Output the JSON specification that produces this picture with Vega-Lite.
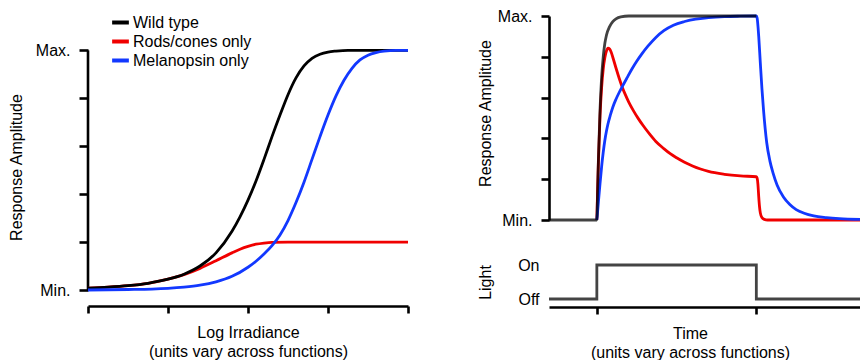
{
  "$schema": "https://vega.github.io/schema/vega-lite/v6.json",
  "padding": {"left": 8, "top": 8, "right": 0, "bottom": 0},
  "autosize": {"type": "pad"},
  "config": {
    "view": {"stroke": null},
    "font": "Liberation Sans",
    "axis": {
      "grid": false,
      "domainColor": "#000000",
      "domainWidth": 2.6,
      "tickColor": "#000000",
      "tickWidth": 2.6,
      "labelFont": "Liberation Sans",
      "labelFontSize": 16,
      "labelColor": "#000000",
      "labelFlush": false,
      "labelOverlap": false,
      "labelBound": false,
      "titleFont": "Liberation Sans",
      "titleFontSize": 16,
      "titleFontWeight": "normal",
      "titleColor": "#000000",
      "titleLineHeight": 19
    },
    "legend": {
      "labelFont": "Liberation Sans",
      "labelFontSize": 16,
      "labelColor": "#000000"
    }
  },
  "datasets": {
    "irr": [
      {"x": 0, "y": 0.008, "s": "Wild type"},
      {"x": 0.25, "y": 0.012, "s": "Wild type"},
      {"x": 0.5, "y": 0.018, "s": "Wild type"},
      {"x": 0.75, "y": 0.028, "s": "Wild type"},
      {"x": 1.0, "y": 0.045, "s": "Wild type"},
      {"x": 1.2, "y": 0.066, "s": "Wild type"},
      {"x": 1.4, "y": 0.1, "s": "Wild type"},
      {"x": 1.6, "y": 0.155, "s": "Wild type"},
      {"x": 1.8, "y": 0.245, "s": "Wild type"},
      {"x": 1.9, "y": 0.305, "s": "Wild type"},
      {"x": 2.0, "y": 0.375, "s": "Wild type"},
      {"x": 2.1, "y": 0.455, "s": "Wild type"},
      {"x": 2.2, "y": 0.545, "s": "Wild type"},
      {"x": 2.3, "y": 0.64, "s": "Wild type"},
      {"x": 2.4, "y": 0.73, "s": "Wild type"},
      {"x": 2.5, "y": 0.815, "s": "Wild type"},
      {"x": 2.6, "y": 0.885, "s": "Wild type"},
      {"x": 2.7, "y": 0.935, "s": "Wild type"},
      {"x": 2.8, "y": 0.967, "s": "Wild type"},
      {"x": 2.9, "y": 0.984, "s": "Wild type"},
      {"x": 3.0, "y": 0.993, "s": "Wild type"},
      {"x": 3.1, "y": 0.997, "s": "Wild type"},
      {"x": 3.25, "y": 1.0, "s": "Wild type"},
      {"x": 3.5, "y": 1.0, "s": "Wild type"},
      {"x": 4.0, "y": 1.0, "s": "Wild type"},
      {"x": 0, "y": 0.008, "s": "Rods/cones only"},
      {"x": 0.25, "y": 0.012, "s": "Rods/cones only"},
      {"x": 0.5, "y": 0.018, "s": "Rods/cones only"},
      {"x": 0.75, "y": 0.028, "s": "Rods/cones only"},
      {"x": 1.0, "y": 0.045, "s": "Rods/cones only"},
      {"x": 1.2, "y": 0.064, "s": "Rods/cones only"},
      {"x": 1.4, "y": 0.09, "s": "Rods/cones only"},
      {"x": 1.6, "y": 0.122, "s": "Rods/cones only"},
      {"x": 1.8, "y": 0.155, "s": "Rods/cones only"},
      {"x": 1.9, "y": 0.17, "s": "Rods/cones only"},
      {"x": 2.0, "y": 0.182, "s": "Rods/cones only"},
      {"x": 2.1, "y": 0.191, "s": "Rods/cones only"},
      {"x": 2.2, "y": 0.196, "s": "Rods/cones only"},
      {"x": 2.3, "y": 0.199, "s": "Rods/cones only"},
      {"x": 2.5, "y": 0.2, "s": "Rods/cones only"},
      {"x": 4.0, "y": 0.2, "s": "Rods/cones only"},
      {"x": 0, "y": 0.0, "s": "Melanopsin only"},
      {"x": 0.5, "y": 0.002, "s": "Melanopsin only"},
      {"x": 0.8, "y": 0.004, "s": "Melanopsin only"},
      {"x": 1.0, "y": 0.007, "s": "Melanopsin only"},
      {"x": 1.2, "y": 0.012, "s": "Melanopsin only"},
      {"x": 1.4, "y": 0.02, "s": "Melanopsin only"},
      {"x": 1.6, "y": 0.034, "s": "Melanopsin only"},
      {"x": 1.8, "y": 0.057, "s": "Melanopsin only"},
      {"x": 2.0, "y": 0.095, "s": "Melanopsin only"},
      {"x": 2.1, "y": 0.12, "s": "Melanopsin only"},
      {"x": 2.2, "y": 0.15, "s": "Melanopsin only"},
      {"x": 2.3, "y": 0.185, "s": "Melanopsin only"},
      {"x": 2.4, "y": 0.23, "s": "Melanopsin only"},
      {"x": 2.5, "y": 0.29, "s": "Melanopsin only"},
      {"x": 2.6, "y": 0.365, "s": "Melanopsin only"},
      {"x": 2.7, "y": 0.45, "s": "Melanopsin only"},
      {"x": 2.8, "y": 0.545, "s": "Melanopsin only"},
      {"x": 2.9, "y": 0.64, "s": "Melanopsin only"},
      {"x": 3.0, "y": 0.73, "s": "Melanopsin only"},
      {"x": 3.1, "y": 0.81, "s": "Melanopsin only"},
      {"x": 3.2, "y": 0.875, "s": "Melanopsin only"},
      {"x": 3.3, "y": 0.925, "s": "Melanopsin only"},
      {"x": 3.4, "y": 0.96, "s": "Melanopsin only"},
      {"x": 3.5, "y": 0.98, "s": "Melanopsin only"},
      {"x": 3.6, "y": 0.991, "s": "Melanopsin only"},
      {"x": 3.7, "y": 0.997, "s": "Melanopsin only"},
      {"x": 3.85, "y": 1.0, "s": "Melanopsin only"},
      {"x": 4.0, "y": 1.0, "s": "Melanopsin only"}
    ],
    "time": [
      {"t": -30, "v": 0, "s": "Wild type"},
      {"t": 0, "v": 0, "s": "Wild type"},
      {"t": 0.5, "v": 0.15, "s": "Wild type"},
      {"t": 1, "v": 0.3, "s": "Wild type"},
      {"t": 2, "v": 0.54, "s": "Wild type"},
      {"t": 3, "v": 0.7, "s": "Wild type"},
      {"t": 4, "v": 0.8, "s": "Wild type"},
      {"t": 5, "v": 0.865, "s": "Wild type"},
      {"t": 6, "v": 0.905, "s": "Wild type"},
      {"t": 8, "v": 0.948, "s": "Wild type"},
      {"t": 10, "v": 0.972, "s": "Wild type"},
      {"t": 12, "v": 0.986, "s": "Wild type"},
      {"t": 15, "v": 0.996, "s": "Wild type"},
      {"t": 20, "v": 1.0, "s": "Wild type"},
      {"t": 100, "v": 1.0, "s": "Wild type"},
      {"t": 0, "v": 0, "s": "Rods/cones only"},
      {"t": 0.5, "v": 0.15, "s": "Rods/cones only"},
      {"t": 1, "v": 0.29, "s": "Rods/cones only"},
      {"t": 2, "v": 0.51, "s": "Rods/cones only"},
      {"t": 3, "v": 0.65, "s": "Rods/cones only"},
      {"t": 4, "v": 0.74, "s": "Rods/cones only"},
      {"t": 5, "v": 0.795, "s": "Rods/cones only"},
      {"t": 6, "v": 0.828, "s": "Rods/cones only"},
      {"t": 7, "v": 0.842, "s": "Rods/cones only"},
      {"t": 8, "v": 0.838, "s": "Rods/cones only"},
      {"t": 9, "v": 0.822, "s": "Rods/cones only"},
      {"t": 10, "v": 0.798, "s": "Rods/cones only"},
      {"t": 12, "v": 0.745, "s": "Rods/cones only"},
      {"t": 14, "v": 0.695, "s": "Rods/cones only"},
      {"t": 16, "v": 0.65, "s": "Rods/cones only"},
      {"t": 18, "v": 0.612, "s": "Rods/cones only"},
      {"t": 20, "v": 0.578, "s": "Rods/cones only"},
      {"t": 23, "v": 0.535, "s": "Rods/cones only"},
      {"t": 26, "v": 0.497, "s": "Rods/cones only"},
      {"t": 29, "v": 0.463, "s": "Rods/cones only"},
      {"t": 33, "v": 0.422, "s": "Rods/cones only"},
      {"t": 37, "v": 0.385, "s": "Rods/cones only"},
      {"t": 42, "v": 0.35, "s": "Rods/cones only"},
      {"t": 46, "v": 0.325, "s": "Rods/cones only"},
      {"t": 50, "v": 0.305, "s": "Rods/cones only"},
      {"t": 55, "v": 0.283, "s": "Rods/cones only"},
      {"t": 60, "v": 0.265, "s": "Rods/cones only"},
      {"t": 65, "v": 0.25, "s": "Rods/cones only"},
      {"t": 70, "v": 0.238, "s": "Rods/cones only"},
      {"t": 80, "v": 0.224, "s": "Rods/cones only"},
      {"t": 90, "v": 0.216, "s": "Rods/cones only"},
      {"t": 100, "v": 0.212, "s": "Rods/cones only"},
      {"t": 100.5, "v": 0.205, "s": "Rods/cones only"},
      {"t": 101, "v": 0.175, "s": "Rods/cones only"},
      {"t": 101.5, "v": 0.115, "s": "Rods/cones only"},
      {"t": 102, "v": 0.065, "s": "Rods/cones only"},
      {"t": 102.5, "v": 0.035, "s": "Rods/cones only"},
      {"t": 103.5, "v": 0.012, "s": "Rods/cones only"},
      {"t": 105, "v": 0.003, "s": "Rods/cones only"},
      {"t": 107, "v": 0, "s": "Rods/cones only"},
      {"t": 165, "v": 0, "s": "Rods/cones only"},
      {"t": 0, "v": 0, "s": "Melanopsin only"},
      {"t": 1, "v": 0.09, "s": "Melanopsin only"},
      {"t": 2, "v": 0.18, "s": "Melanopsin only"},
      {"t": 3, "v": 0.262, "s": "Melanopsin only"},
      {"t": 4, "v": 0.332, "s": "Melanopsin only"},
      {"t": 5, "v": 0.39, "s": "Melanopsin only"},
      {"t": 6, "v": 0.435, "s": "Melanopsin only"},
      {"t": 7, "v": 0.472, "s": "Melanopsin only"},
      {"t": 8.5, "v": 0.515, "s": "Melanopsin only"},
      {"t": 10, "v": 0.553, "s": "Melanopsin only"},
      {"t": 12, "v": 0.592, "s": "Melanopsin only"},
      {"t": 14, "v": 0.625, "s": "Melanopsin only"},
      {"t": 16, "v": 0.655, "s": "Melanopsin only"},
      {"t": 19, "v": 0.698, "s": "Melanopsin only"},
      {"t": 22, "v": 0.74, "s": "Melanopsin only"},
      {"t": 25, "v": 0.778, "s": "Melanopsin only"},
      {"t": 28, "v": 0.812, "s": "Melanopsin only"},
      {"t": 32, "v": 0.852, "s": "Melanopsin only"},
      {"t": 37, "v": 0.895, "s": "Melanopsin only"},
      {"t": 42, "v": 0.928, "s": "Melanopsin only"},
      {"t": 48, "v": 0.955, "s": "Melanopsin only"},
      {"t": 55, "v": 0.973, "s": "Melanopsin only"},
      {"t": 62, "v": 0.985, "s": "Melanopsin only"},
      {"t": 70, "v": 0.992, "s": "Melanopsin only"},
      {"t": 80, "v": 0.997, "s": "Melanopsin only"},
      {"t": 90, "v": 0.999, "s": "Melanopsin only"},
      {"t": 100, "v": 1.0, "s": "Melanopsin only"},
      {"t": 100.5, "v": 0.99, "s": "Melanopsin only"},
      {"t": 101.5, "v": 0.9, "s": "Melanopsin only"},
      {"t": 102.5, "v": 0.77, "s": "Melanopsin only"},
      {"t": 103.5, "v": 0.645, "s": "Melanopsin only"},
      {"t": 104.5, "v": 0.54, "s": "Melanopsin only"},
      {"t": 106.5, "v": 0.38, "s": "Melanopsin only"},
      {"t": 108.5, "v": 0.29, "s": "Melanopsin only"},
      {"t": 110.5, "v": 0.23, "s": "Melanopsin only"},
      {"t": 113, "v": 0.172, "s": "Melanopsin only"},
      {"t": 117, "v": 0.113, "s": "Melanopsin only"},
      {"t": 121, "v": 0.076, "s": "Melanopsin only"},
      {"t": 125, "v": 0.051, "s": "Melanopsin only"},
      {"t": 130, "v": 0.033, "s": "Melanopsin only"},
      {"t": 136, "v": 0.02, "s": "Melanopsin only"},
      {"t": 144, "v": 0.012, "s": "Melanopsin only"},
      {"t": 152, "v": 0.007, "s": "Melanopsin only"},
      {"t": 165, "v": 0.003, "s": "Melanopsin only"}
    ],
    "light": [
      {"t": -30, "on": 0},
      {"t": 0, "on": 1},
      {"t": 100, "on": 0},
      {"t": 165, "on": 0}
    ]
  },
  "bounds": "flush",
  "spacing": 141,
  "hconcat": [
    {
      "width": 320,
      "height": 274,
      "data": {"name": "irr"},
      "layer": [
        {
          "data": {"values": [{"edge": "y axis"}]},
          "mark": {"type": "rule", "color": "#000000", "strokeWidth": 2.6},
          "encoding": {
            "x": {"datum": 0, "type": "quantitative"},
            "y": {"datum": 0, "type": "quantitative"},
            "y2": {"datum": 1}
          }
        },
        {
          "transform": [{"filter": "datum.s == 'Rods/cones only'"}],
          "mark": {"type": "line", "strokeWidth": 2.8, "interpolate": "monotone"},
          "encoding": {
            "x": {"field": "x", "type": "quantitative", "scale": {"domain": [0, 4], "nice": false, "zero": false},
              "axis": {"values": [0, 1, 2, 3, 4], "labels": false, "tickSize": 7, "offset": 16,
                "title": ["Log Irradiance", "(units vary across functions)"], "titleBaseline": "alphabetic", "titleY": 31}},
            "y": {"field": "y", "type": "quantitative", "scale": {"domain": [0, 1.1434], "nice": false, "zero": false},
              "axis": {"values": [0, 0.2, 0.4, 0.6, 0.8, 1], "domain": false, "tickSize": 9, "labelPadding": 9,
                "labelExpr": "datum.value == 1 ? 'Max.' : (datum.value == 0 ? 'Min.' : '')",
                "title": "Response Amplitude", "titleX": -64, "titleY": 151, "titleBaseline": "bottom"}},
            "color": {"field": "s", "type": "nominal",
              "scale": {"domain": ["Wild type", "Rods/cones only", "Melanopsin only"], "range": ["#000000", "#f00000", "#1238ff"]},
              "legend": {"orient": "none", "legendX": 22, "legendY": -4, "title": null, "symbolType": "stroke", "symbolSize": 280,
                "symbolStrokeWidth": 4, "rowPadding": -1, "labelOffset": 2, "padding": 0, "labelLimit": 300}}
          }
        },
        {
          "transform": [{"filter": "datum.s == 'Wild type'"}],
          "mark": {"type": "line", "strokeWidth": 2.8, "interpolate": "monotone"},
          "encoding": {
            "x": {"field": "x", "type": "quantitative"},
            "y": {"field": "y", "type": "quantitative"},
            "color": {"field": "s", "type": "nominal"}
          }
        },
        {
          "transform": [{"filter": "datum.s == 'Melanopsin only'"}],
          "mark": {"type": "line", "strokeWidth": 2.8, "interpolate": "monotone"},
          "encoding": {
            "x": {"field": "x", "type": "quantitative"},
            "y": {"field": "y", "type": "quantitative"},
            "color": {"field": "s", "type": "nominal"}
          }
        }
      ]
    },
    {
      "bounds": "flush",
      "spacing": 45,
      "vconcat": [
        {
          "width": 311,
          "height": 204,
          "data": {"name": "time"},
          "layer": [
            {
              "transform": [{"filter": "datum.s == 'Rods/cones only'"}],
              "mark": {"type": "line", "strokeWidth": 2.8, "interpolate": "monotone", "color": "#f00000"},
              "encoding": {
                "x": {"field": "t", "type": "quantitative", "scale": {"domain": [-30, 165], "nice": false, "zero": false}, "axis": null},
                "y": {"field": "v", "type": "quantitative", "scale": {"domain": [0, 1], "nice": false, "zero": false},
                  "axis": {"values": [0, 0.2, 0.4, 0.6, 0.8, 1], "tickSize": 8, "labelPadding": 9,
                    "labelExpr": "datum.value == 1 ? 'Max.' : (datum.value == 0 ? 'Min.' : '')",
                    "title": "Response Amplitude", "titleX": -56, "titleY": 97, "titleBaseline": "bottom"}}
              }
            },
            {
              "transform": [{"filter": "datum.s == 'Melanopsin only'"}],
              "mark": {"type": "line", "strokeWidth": 2.8, "interpolate": "monotone", "color": "#1238ff"},
              "encoding": {
                "x": {"field": "t", "type": "quantitative"},
                "y": {"field": "v", "type": "quantitative"}
              }
            },
            {
              "transform": [{"filter": "datum.s == 'Wild type'"}],
              "mark": {"type": "line", "strokeWidth": 2.8, "interpolate": "monotone", "color": "#000000", "strokeOpacity": 0.74},
              "encoding": {
                "x": {"field": "t", "type": "quantitative"},
                "y": {"field": "v", "type": "quantitative"}
              }
            }
          ]
        },
        {
          "width": 311,
          "height": 34,
          "data": {"name": "light"},
          "mark": {"type": "line", "interpolate": "step-after", "color": "#444444", "strokeWidth": 2.8},
          "encoding": {
            "x": {"field": "t", "type": "quantitative", "scale": {"domain": [-30, 165], "nice": false, "zero": false},
              "axis": {"values": [0, 100], "labels": false, "tickSize": 7, "offset": 8,
                "title": ["Time", "(units vary across functions)"], "titleBaseline": "alphabetic", "titleY": 31, "titleX": 141}},
            "y": {"field": "on", "type": "quantitative", "scale": {"domain": [0, 1], "nice": false, "zero": false},
              "axis": {"values": [0, 1], "domain": false, "ticks": false, "tickSize": 0, "labelPadding": 10,
                "labelExpr": "datum.value == 1 ? 'On' : 'Off'",
                "title": "Light", "titleX": -56, "titleBaseline": "bottom"}}
          }
        }
      ]
    }
  ]
}
